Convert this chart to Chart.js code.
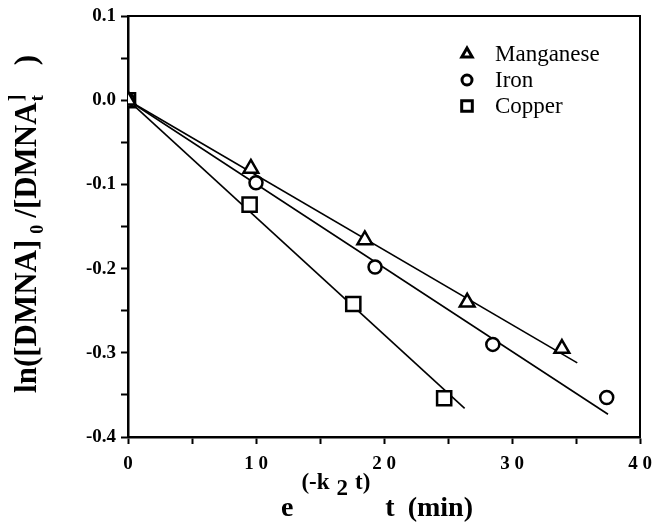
<!DOCTYPE html>
<html>
<head>
<meta charset="utf-8">
<script src="https://cdn.jsdelivr.net/npm/chart.js@4.4.0/dist/chart.umd.min.js"></script>
<style>
  html, body { margin: 0; padding: 0; background: #fff; }
</style>
</head>
<body>
<canvas id="chart" width="655" height="523"></canvas>
<script>
"use strict";

// measured points
const MN_X = [0, 9.6, 18.5, 26.5, 33.9];
const MN_Y = [0, -0.081, -0.166, -0.240, -0.295];
const FE_X = [0, 10.0, 19.3, 28.5, 37.4];
const FE_Y = [0, -0.098, -0.198, -0.290, -0.353];
const CU_X = [0, 9.5, 17.6, 24.7];
const CU_Y = [0, -0.124, -0.242, -0.354];

// fitted lines (start, end)
const MN_FIT_X = [0, 35.1];
const MN_FIT_Y = [0, -0.312];
const FE_FIT_X = [0, 37.5];
const FE_FIT_Y = [0, -0.373];
const CU_FIT_X = [0, 26.3];
const CU_FIT_Y = [0, -0.366];

const SERIES = ["Manganese", "Iron", "Copper"];
const X_LABELS = ["0", "1 0", "2 0", "3 0", "4 0"];
const Y_LABELS = ["0.1", "0.0", "-0.1", "-0.2", "-0.3", "-0.4"];

const FONT = "'Liberation Serif', 'DejaVu Serif', serif";

function pts(xs, ys) { return xs.map((x, i) => ({ x, y: ys[i] })); }

function markers(label, xs, ys, style, r) {
  return {
    label, data: pts(xs, ys), showLine: false,
    pointStyle: style, pointRadius: r, pointBorderWidth: 2.5,
    pointBorderColor: "#000", pointBackgroundColor: "#fff", order: 0,
  };
}

function fit(xs, ys) {
  return {
    label: "", data: pts(xs, ys), showLine: true, pointRadius: 0,
    borderColor: "#000", borderWidth: 1.6, order: 1,
  };
}

// text with sub/superscript parts, laid out left to right
function drawRich(ctx, parts, cx, baseY) {
  let w = 0;
  for (const p of parts) {
    ctx.font = `bold ${p.size}px ${FONT}`;
    p.w = ctx.measureText(p.t).width;
    if (!p.stack) w += p.w + (p.gap || 0);
  }
  let x = cx - w / 2;
  for (const p of parts) {
    ctx.font = `bold ${p.size}px ${FONT}`;
    ctx.fillText(p.t, x, baseY + (p.dy || 0));
    if (!p.stack) x += p.w + (p.gap || 0);
  }
}

const decor = {
  id: "decor",
  afterDraw(chart) {
    const { ctx, chartArea: a } = chart;
    ctx.save();
    // top + right frame
    ctx.strokeStyle = "#000";
    ctx.lineWidth = 2;
    ctx.beginPath();
    ctx.moveTo(a.left, a.top);
    ctx.lineTo(a.right, a.top);
    ctx.lineTo(a.right, a.bottom);
    ctx.stroke();

    ctx.fillStyle = "#000";
    ctx.textBaseline = "alphabetic";
    ctx.textAlign = "left";

    // x title
    drawRich(ctx, [
      { t: "e", size: 28, gap: 8 },
      { t: "(-k", size: 23, dy: -27, gap: 7 },
      { t: "2", size: 23, dy: -21, gap: 7 },
      { t: "t)", size: 23, dy: -27, gap: 15 },
      { t: "t", size: 28, gap: 13 },
      { t: "(min)", size: 28 },
    ], (a.left + a.right) / 2 - 7, 516);

    // y title (rotated)
    ctx.save();
    ctx.translate(36, 224);
    ctx.rotate(-Math.PI / 2);
    drawRich(ctx, [
      { t: "ln([DMNA]", size: 31, gap: 6 },
      { t: "0", size: 18, dy: 7, gap: 7 },
      { t: "/[DMNA", size: 31, gap: 1 },
      { t: "]", size: 20, dy: -13, stack: true },
      { t: "t", size: 18, dy: 7, gap: 30 },
      { t: ")", size: 31 },
    ], 0, 0);
    ctx.restore();

    // legend
    const lx = a.right - 173, ly = a.top + 38;
    ctx.font = `23px ${FONT}`;
    ctx.textBaseline = "middle";
    chart.data.datasets.filter(d => d.label).forEach((d, i) => {
      const y = ly + i * 26;
      ctx.fillStyle = "#fff";
      ctx.strokeStyle = "#000";
      ctx.lineWidth = 3;
      const r = d.pointStyle === "rect" ? 7.5 : (d.pointStyle === "circle" ? 5 : 6);
      Chart.helpers.drawPoint(ctx, { pointStyle: d.pointStyle, radius: r, borderWidth: 3, rotation: 0 }, lx, y);
      ctx.fillStyle = "#000";
      ctx.fillText(d.label, lx + 28, y + 1);
    });
    ctx.restore();
  },
};

new Chart(document.getElementById("chart"), {
  type: "scatter",
  data: {
    datasets: [
      markers(SERIES[0], MN_X, MN_Y, "triangle", 8.5),
      markers(SERIES[1], FE_X, FE_Y, "circle", 6.5),
      markers(SERIES[2], CU_X, CU_Y, "rect", 10),
      fit(MN_FIT_X, MN_FIT_Y),
      fit(FE_FIT_X, FE_FIT_Y),
      fit(CU_FIT_X, CU_FIT_Y),
    ],
  },
  options: {
    responsive: false, animation: false,
    layout: { padding: { left: 0, right: 15, top: 16, bottom: 0 } },
    plugins: { legend: { display: false }, tooltip: { enabled: false } },
    scales: {
      x: {
        type: "linear", min: 0, max: 40,
        afterFit: s => { s.height = 86; s.paddingLeft = 0; s.paddingRight = 0; },
        border: { display: true, color: "#000", width: 2.5 },
        grid: { drawOnChartArea: false, drawTicks: true, tickLength: 7, tickWidth: 2, tickColor: "#000" },
        ticks: {
          stepSize: 5, color: "#000", padding: 9, maxRotation: 0,
          font: { family: FONT, size: 19, weight: "bold" },
          callback: v => (v % 10 === 0 ? X_LABELS[v / 10] : ""),
        },
      },
      y: {
        type: "linear", min: -0.4, max: 0.1,
        afterFit: s => { s.width = 128; s.paddingTop = 0; s.paddingBottom = 0; },
        border: { display: true, color: "#000", width: 2.5 },
        grid: { drawOnChartArea: false, drawTicks: true, tickLength: 7, tickWidth: 2, tickColor: "#000" },
        ticks: {
          stepSize: 0.05, color: "#000", padding: 5,
          font: { family: FONT, size: 19, weight: "bold" },
          callback: v => {
            const k = Math.round((0.1 - v) * 10);
            return Math.abs((0.1 - v) * 10 - k) < 1e-6 ? Y_LABELS[k] : "";
          },
        },
      },
    },
  },
  plugins: [decor],
});
</script>
</body>
</html>
